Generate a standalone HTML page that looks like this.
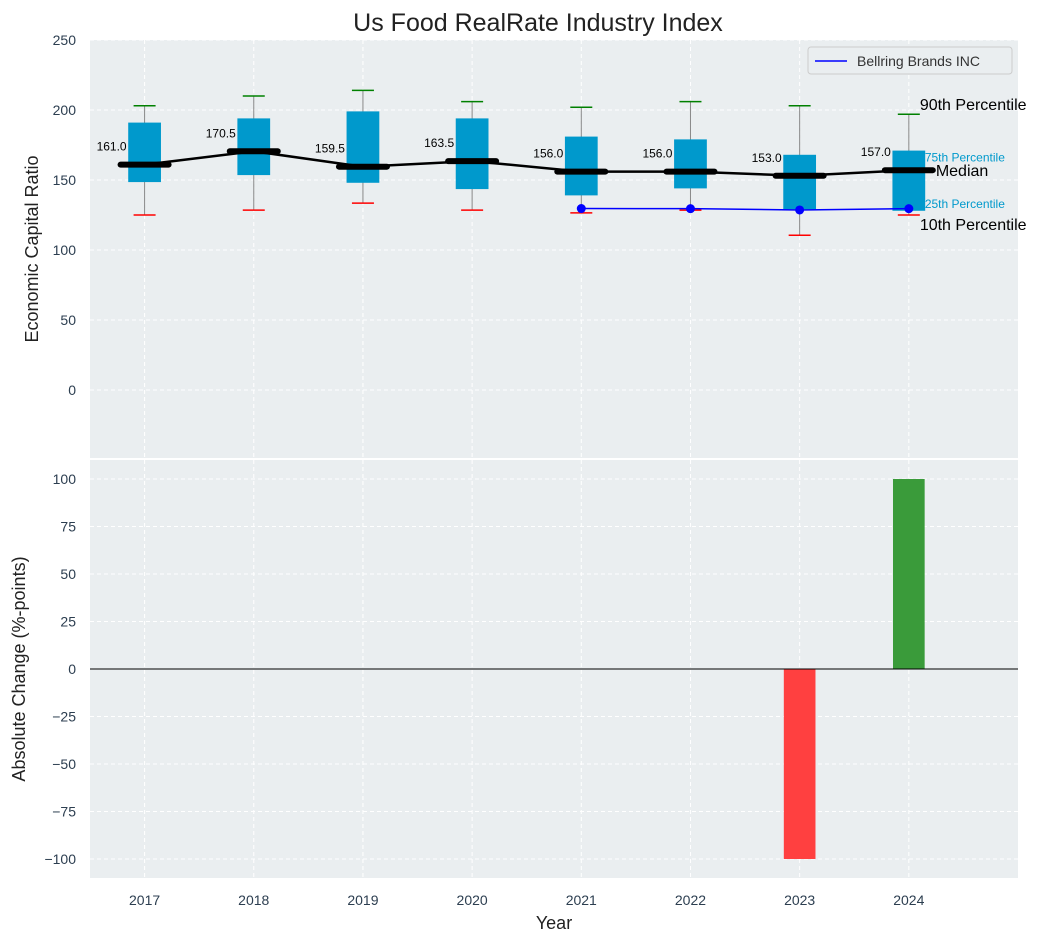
<!DOCTYPE html>
<html><head><meta charset="utf-8"><style>
body{margin:0;background:#fff;font-family:"Liberation Sans","DejaVu Sans",sans-serif}
</style></head><body>
<svg id="c" width="1057" height="942" xmlns="http://www.w3.org/2000/svg" font-family="Liberation Sans, DejaVu Sans, sans-serif"></svg>
<script>
const years=[2017,2018,2019,2020,2021,2022,2023,2024];
const p90=[203,210,214,206,202,206,203,197];
const p75=[191,194,199,194,181,179,168,171];
const medians=[161.0,170.5,159.5,163.5,156.0,156.0,153.0,157.0];
const p25=[148.5,153.5,148,143.5,139,144,129,128];
const p10=[125,128.5,133.5,128.5,126.5,128.5,110.5,125];
const companyYears=[2021,2022,2023,2024];
const companyVals=[129.6,129.5,128.6,129.5];
const changeYears=[2023,2024];
const changeVals=[-100,100];
const topTicks=[0,50,100,150,200,250];
const botTicks=[-100,-75,-50,-25,0,25,50,75,100];

const NS="http://www.w3.org/2000/svg";
const svg=document.getElementById('c');
function el(t,a,p){const e=document.createElementNS(NS,t);for(const k in a)e.setAttribute(k,a[k]);(p||svg).appendChild(e);return e;}
const L=90,R=1018;
const x=v=>L+(v-2016.5)/(2025-2016.5)*(R-L);
const T0=40,T1=458,yt=v=>T0+(250-v)/(250-(-48.6))*(T1-T0);
const B0=460,B1=878,yb=v=>B0+(110-v)/220*(B1-B0);

let t=el('text',{x:538,y:31,'font-size':25,'text-anchor':'middle',fill:'#222'});t.textContent='Us Food RealRate Industry Index';


let bg=el('rect',{x:L,y:T0,width:R-L,height:T1-T0,fill:'#eaeef0'});

let bg2=el('rect',{x:L,y:B0,width:R-L,height:B1-B0,fill:'#eaeef0'});


topTicks.forEach(v=>{el('line',{x1:L,x2:R,y1:yt(v),y2:yt(v),stroke:'#fff','stroke-dasharray':'4,3'});
 const tt=el('text',{x:L-14,y:yt(v)+5,'font-size':14,'text-anchor':'end',fill:'#2c3e50'});tt.textContent=v;
 });
botTicks.forEach(v=>{el('line',{x1:L,x2:R,y1:yb(v),y2:yb(v),stroke:'#fff','stroke-dasharray':'4,3'});
 const tt=el('text',{x:L-14,y:yb(v)+5,'font-size':14,'text-anchor':'end',fill:'#2c3e50'});tt.textContent=v===0?'0':(v<0?'\u2212'+(-v):v);
 });
years.forEach(yr=>{el('line',{x1:x(yr),x2:x(yr),y1:T0,y2:T1,stroke:'#fff','stroke-dasharray':'4,3'});
 el('line',{x1:x(yr),x2:x(yr),y1:B0,y2:B1,stroke:'#fff','stroke-dasharray':'4,3'});
 const tt=el('text',{x:x(yr),y:905,'font-size':14,'text-anchor':'middle',fill:'#2c3e50'});tt.textContent=yr;
 });
el('line',{x1:L,x2:R,y1:459,y2:459,stroke:'#fff','stroke-width':2});

const bw=(R-L)/8.5*0.3;
years.forEach((yr,i)=>{const cx=x(yr);
 el('line',{x1:cx,x2:cx,y1:yt(p90[i]),y2:yt(p10[i]),stroke:'#888','stroke-width':1});
 const b=el('rect',{x:cx-bw/2,y:yt(p75[i]),width:bw,height:yt(p25[i])-yt(p75[i]),fill:'#0099cc'});
 
 el('line',{x1:cx-11,x2:cx+11,y1:yt(p90[i]),y2:yt(p90[i]),stroke:'green','stroke-width':1.5});
 el('line',{x1:cx-11,x2:cx+11,y1:yt(p10[i]),y2:yt(p10[i]),stroke:'red','stroke-width':1.5});
 const m=el('line',{x1:cx-24,x2:cx+24,y1:yt(medians[i]),y2:yt(medians[i]),stroke:'#000','stroke-width':6,'stroke-linecap':'round'});
 
 const lb=el('text',{x:cx-33,y:yt(medians[i])-14,'font-size':12,'text-anchor':'middle',fill:'#000'});lb.textContent=medians[i].toFixed(1);
 
});
const ml=el('polyline',{points:years.map((yr,i)=>x(yr)+','+yt(medians[i])).join(' '),fill:'none',stroke:'#000','stroke-width':2.5});

const cl=el('polyline',{points:companyYears.map((yr,i)=>x(yr)+','+yt(companyVals[i])).join(' '),fill:'none',stroke:'blue','stroke-width':1.5});

companyYears.forEach((yr,i)=>{const c=el('circle',{cx:x(yr),cy:yt(companyVals[i]),r:4.5,fill:'blue'});
 });

const li=years.length-1,ax=x(years[li]);
[[p90[li],'90th Percentile',16,'#000',ax+11,-4],[p75[li],'75th Percentile',12,'#0099cc',ax+16,11],[medians[li],'Median',16,'#000',ax+27,6],[p25[li],'25th Percentile',12,'#0099cc',ax+16,-3],[p10[li],'10th Percentile',16,'#000',ax+11,15]].forEach(a=>{
 const tt=el('text',{x:a[4],y:yt(a[0])+a[5],'font-size':a[2],fill:a[3]});tt.textContent=a[1];
 });

const lg=el('g',{});
el('rect',{x:808,y:47,width:204,height:27,rx:3,fill:'#eaeef0',stroke:'#ccc'},lg);
el('line',{x1:815,x2:847,y1:61,y2:61,stroke:'blue','stroke-width':1.5},lg);
t=el('text',{x:857,y:66,'font-size':14,fill:'#333'},lg);t.textContent='Bellring Brands INC';

changeYears.forEach((yr,i)=>{const v=changeVals[i],w=(R-L)/8.5*0.29;
 const r=el('rect',{x:x(yr)-w/2,y:Math.min(yb(v),yb(0)),width:w,height:Math.abs(yb(v)-yb(0)),fill:v<0?'#ff4040':'#3a9b3a'});
 });
el('line',{x1:L,x2:R,y1:yb(0),y2:yb(0),stroke:'#000','stroke-width':1});

t=el('text',{x:38,y:249,'font-size':18,'text-anchor':'middle',fill:'#222',transform:'rotate(-90 38 249)'});t.textContent='Economic Capital Ratio';

t=el('text',{x:25,y:669,'font-size':18,'text-anchor':'middle',fill:'#222',transform:'rotate(-90 25 669)'});t.textContent='Absolute Change (%-points)';

t=el('text',{x:554,y:929,'font-size':18,'text-anchor':'middle',fill:'#222'});t.textContent='Year';

</script>
</body></html>
